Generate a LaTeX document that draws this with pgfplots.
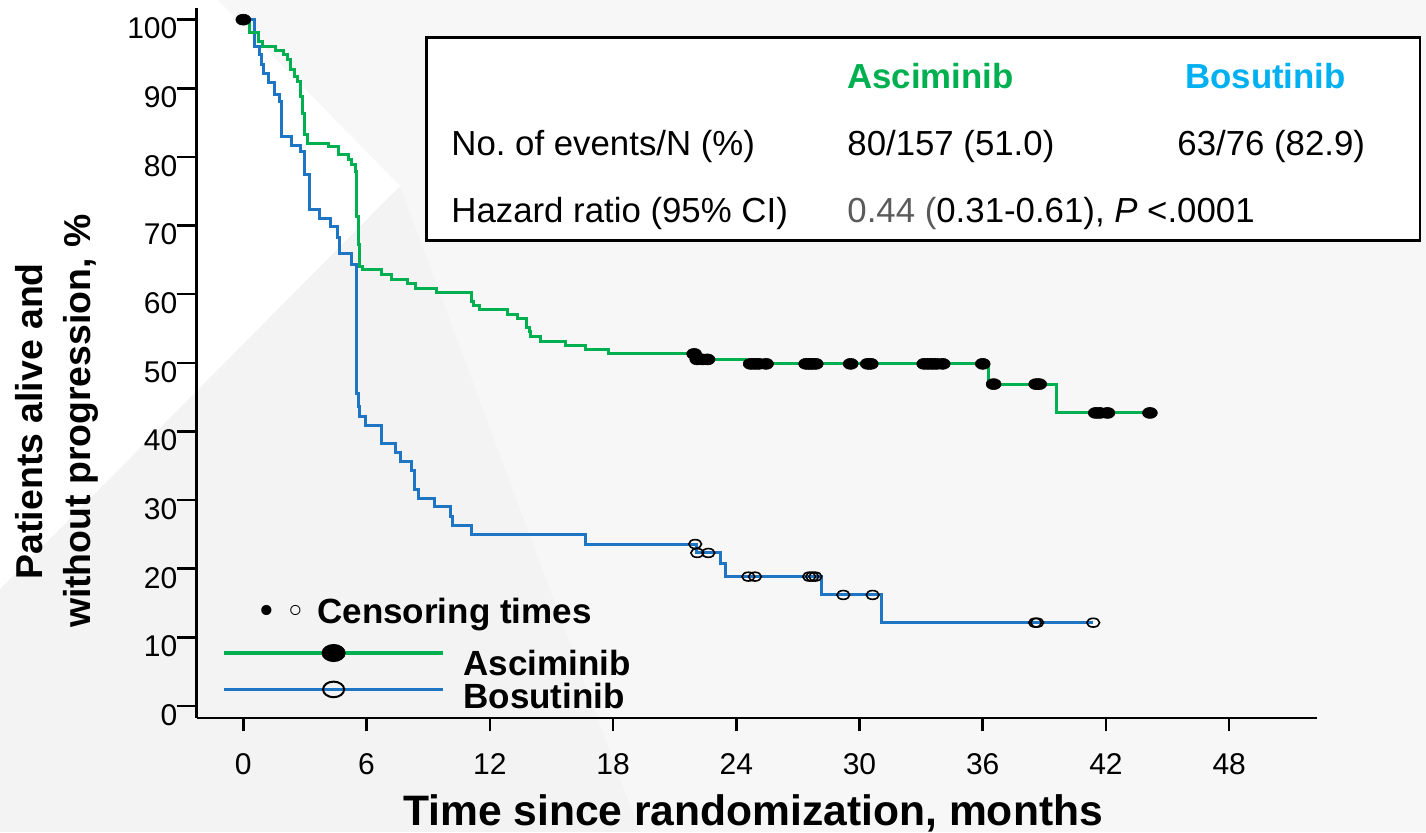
\documentclass[border=0pt]{standalone}
\usepackage{fontspec}
\setmainfont{Liberation Sans}
\newfontfamily\symfont{DejaVu Sans}
\usepackage{pgfplots}
\pgfplotsset{compat=1.18}
\frenchspacing

\definecolor{ascgreen}{RGB}{0,176,80}
\definecolor{bosblue}{RGB}{30,117,196}
\definecolor{boscyan}{RGB}{0,176,240}
\definecolor{bgbase}{RGB}{243,243,243}
\definecolor{bgright}{RGB}{247,247,247}
\definecolor{hrgray}{RGB}{90,90,90}

% Kaplan-Meier estimates (time in months, percent)
\pgfplotstableread{
t v
0 100
0.29 98.15
0.73 96.84
0.94 96.11
1.59 95.53
1.95 94.9
2.14 94.17
2.31 92.71
2.47 91.73
2.63 91.0
2.76 88.8
2.89 86.4
3.0 83.2
3.12 82.0
4.14 81.5
4.63 80.3
5.11 79.6
5.28 78.9
5.44 77.9
5.52 71.3
5.61 67.2
5.68 64.0
5.81 63.6
6.74 62.8
7.22 62.1
7.98 61.5
8.36 60.9
9.42 60.3
11.12 58.9
11.23 58.3
11.52 57.7
12.84 57.1
13.34 56.5
13.80 55.2
13.92 54.6
14.0 53.8
14.45 53.1
15.71 52.5
16.64 51.9
17.77 51.3
22.0 50.5
24.43 49.85
36.27 46.9
39.6 42.7
44.14 42.7
}\ascKM

\pgfplotstableread{
t v
0 100
0.52 98.1
0.55 96.1
0.78 94.9
0.9 93.4
0.98 92.1
1.22 90.9
1.54 89.1
1.75 88.1
1.87 83.0
2.36 81.6
2.76 80.8
3.0 77.4
3.21 72.4
3.73 71.1
4.26 69.8
4.58 68.3
4.67 65.9
5.28 64.4
5.52 45.6
5.6 43.6
5.68 42.2
5.96 40.9
6.74 38.3
7.39 37.0
7.66 35.6
8.2 34.3
8.33 31.6
8.52 30.3
9.33 29.0
10.11 27.6
10.19 26.3
11.12 25.0
16.64 23.6
22.05 22.3
23.21 20.8
23.49 18.85
28.16 16.18
31.08 12.14
41.38 12.14
}\bosKM

% censoring times
\pgfplotstableread{
t v
0 100
21.95 51.3
22.1 50.5
22.35 50.5
22.6 50.5
24.7 49.85
24.9 49.85
25.1 49.85
25.45 49.85
27.4 49.85
27.55 49.85
27.7 49.85
27.87 49.85
29.57 49.85
30.4 49.85
30.55 49.85
33.15 49.85
33.35 49.85
33.55 49.85
33.75 49.85
34.05 49.85
36.0 49.85
36.53 46.9
38.6 46.9
38.75 46.9
41.5 42.7
41.7 42.7
42.07 42.7
44.14 42.7
}\ascCens

\pgfplotstableread{
t v
22.0 23.6
22.1 22.3
22.64 22.3
24.59 18.85
24.91 18.85
27.55 18.85
27.7 18.85
27.85 18.85
29.21 16.18
30.64 16.18
38.55 12.14
38.65 12.14
41.38 12.14
}\bosCens

\begin{document}
\begin{tikzpicture}
% page grid: 1 unit = 0.5pt, origin top-left, y pointing down
\begin{scope}[shift={(-98.35pt,359pt)}, x=0.5pt, y=-0.5pt]
  \fill[bgbase] (0,0) rectangle (1426,832);
  \fill[bgright] (218,0) -- (1426,0) -- (1426,832) -- (640,832) -- (400,186) -- cycle;
  \fill[white] (0,0) -- (218,0) -- (400,186) -- (0,589) -- cycle;
\end{scope}

\begin{axis}[
  at={(0,0)}, anchor=south west,
  scale only axis, width=560pt, height=355pt,
  xmin=-2.27, xmax=52.26, ymin=-1.75, ymax=101.7,
  clip=false,
  axis x line*=bottom, axis y line*=left,
  axis line style={line width=1.25pt, black},
  tick align=outside,
  xtick={0,6,...,48}, ytick={0,10,...,100},
  major tick style={line width=1.25pt, black},
  xtick style={/pgfplots/major tick length=6.7pt},
  ytick style={/pgfplots/major tick length=10pt},
  tick label style={font=\fontsize{15}{18}\selectfont},
  /pgf/number format/assume math mode=true,
  yticklabel style={inner sep=0pt, xshift=-5.2pt, yshift=-4.5pt},
  xticklabel style={inner sep=0pt, yshift=-13.5pt},
  xlabel={Time since randomization, months},
  xlabel style={font=\bfseries\fontsize{21.3}{25}\selectfont, at={(axis description cs:0.4967,-0.152)}, anchor=base, inner sep=0pt},
  ylabel={Patients alive and\\without progression, \%},
  ylabel style={font=\bfseries\fontsize{18.7}{24}\selectfont, align=center, at={(axis description cs:-0.1252,0.418)}, anchor=center, inner sep=0pt},
  legend image code/.code={
    \draw[mark repeat=2, mark phase=2, #1] plot coordinates {(0pt,0pt) (54.75pt,0pt) (109.5pt,0pt)};
  },
  legend style={at={(axis description cs:0.0226,0.1042)}, anchor=north west, draw=none, fill=none,
    inner sep=0pt, row sep=10pt, nodes={inner sep=0pt}, font=\fontsize{4}{4}\selectfont},
]
\addlegendimage{ascgreen, line width=1.7pt, mark=*, mark size=4.3pt,
  mark options={solid, draw=black, fill=black, xscale=1.35, line width=0.4pt}}
\addlegendentry{\mbox{}}
\addlegendimage{bosblue, line width=1.7pt, mark=o, mark size=3.9pt,
  mark options={solid, draw=black, xscale=1.35, line width=1pt}}
\addlegendentry{\mbox{}}

\addplot[const plot, bosblue, line width=1.5pt, forget plot] table[x=t, y=v] {\bosKM};
\addplot[const plot, ascgreen, line width=1.5pt, forget plot] table[x=t, y=v] {\ascKM};
\addplot[only marks, mark=*, mark size=2.75pt, forget plot,
  mark options={draw=black, fill=black, xscale=1.36, line width=0.3pt}] table[x=t, y=v] {\ascCens};
\addplot[only marks, mark=o, mark size=2.2pt, forget plot,
  mark options={draw=black, xscale=1.45, line width=0.8pt}] table[x=t, y=v] {\bosCens};
\end{axis}

% text blocks on the page grid
\begin{scope}[shift={(-98.35pt,359pt)}, x=0.5pt, y=-0.5pt, every node/.style={inner sep=0pt}]
  % legend header and labels
  \node[anchor=base] at (267,623) {\symfont\fontsize{17.5}{20}\selectfont •};
  \node[anchor=base] at (296,623) {\symfont\fontsize{17.5}{20}\selectfont ◦};
  \node[anchor=base west] at (317,623) {\bfseries\fontsize{17.5}{20}\selectfont Censoring times};
  \node[anchor=base west] at (463,675) {\bfseries\fontsize{17.5}{20}\selectfont Asciminib};
  \node[anchor=base west] at (463,708) {\bfseries\fontsize{17.5}{20}\selectfont Bosutinib};
  % summary box
  \draw[line width=1.25pt, fill=white] (426.5,37.5) rectangle (1420,240.5);
  \begin{scope}[every node/.append style={font=\fontsize{17.4}{20}\selectfont, anchor=base west}]
    \node[text=ascgreen, font=\bfseries\fontsize{17.4}{20}\selectfont] at (847,88) {Asciminib};
    \node[text=boscyan, font=\bfseries\fontsize{17.4}{20}\selectfont] at (1185,88) {Bosutinib};
    \node at (451,155) {No. of events/N (\%)};
    \node at (847,155) {80/157 (51.0)};
    \node at (1177,155) {63/76 (82.9)};
    \node at (451,222) {Hazard ratio (95\% CI)};
    \node at (847,222) {{\color{hrgray}0.44 (}0.31-0.61), \textit{P} <.0001};
  \end{scope}
\end{scope}

\pgfresetboundingbox
\path[use as bounding box] (-98.35pt,359pt) rectangle (614.65pt,-57pt);
\end{tikzpicture}
\end{document}
